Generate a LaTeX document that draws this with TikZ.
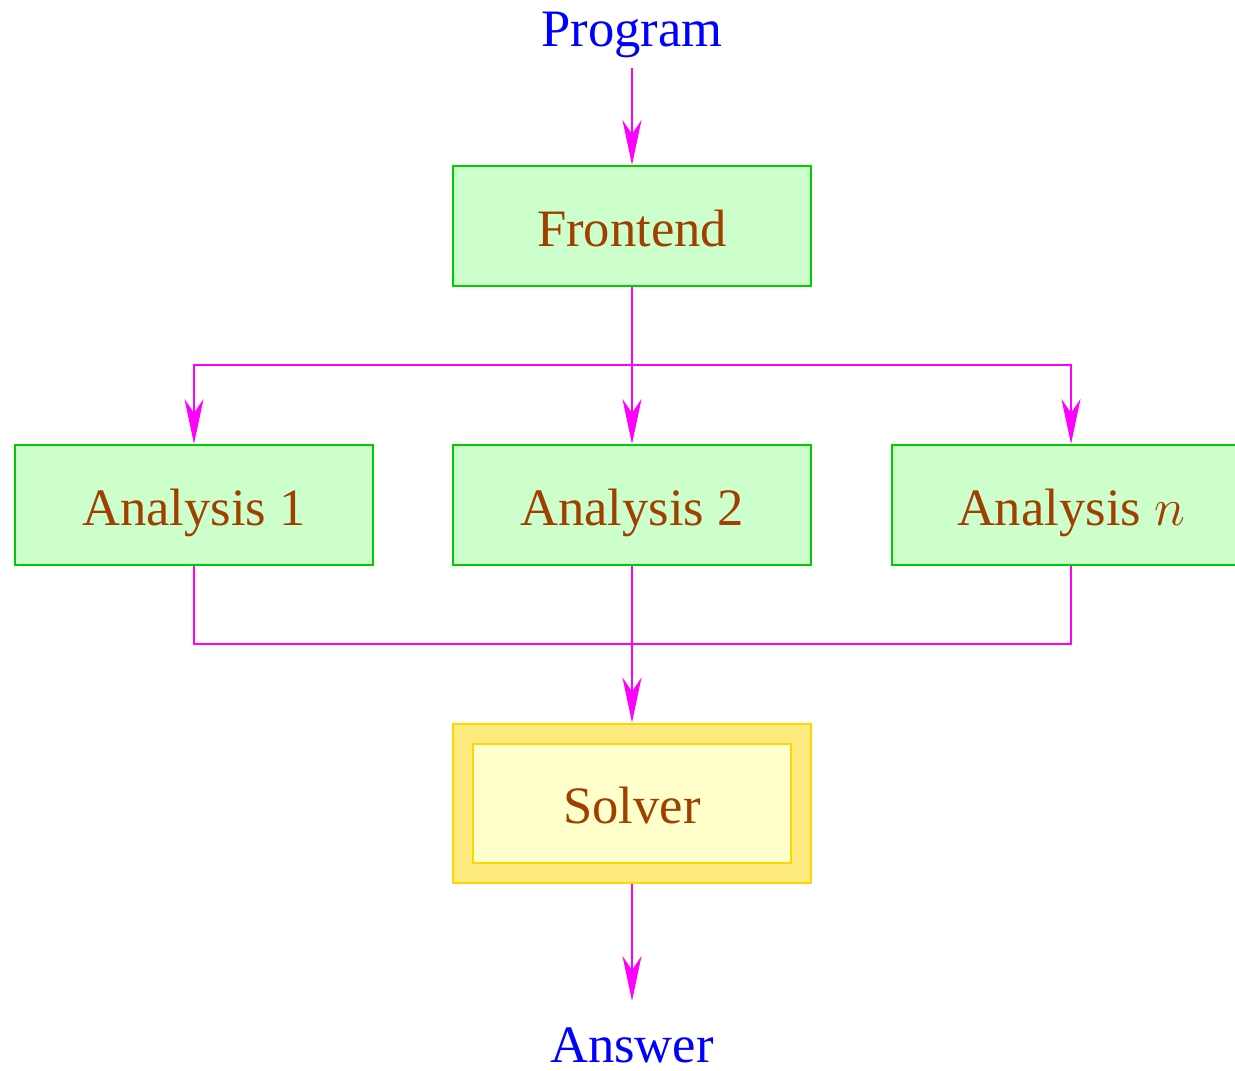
\RequirePackage{fix-cm}
\documentclass[tikz,border=0pt]{standalone}
\usepackage{fontspec}
\setmainfont{Liberation Serif}
\usetikzlibrary{arrows.meta}
\definecolor{boxgreen}{RGB}{0,204,0}
\definecolor{boxfill}{RGB}{204,255,204}
\definecolor{labelbrown}{RGB}{160,64,0}
\definecolor{solverout}{RGB}{255,234,128}
\definecolor{solverin}{RGB}{255,255,204}
\definecolor{solverline}{RGB}{255,214,0}
\definecolor{wire}{RGB}{255,0,255}
\tikzset{
  flow/.style={draw=wire, line width=1.8pt,
    -{Stealth[length=45pt, width=19pt, inset=14pt]}},
  link/.style={draw=wire, line width=1.8pt},
  stage/.style={draw=boxgreen, fill=boxfill, line width=2pt,
    minimum width=358pt, minimum height=120pt, inner sep=0pt,
    text height=40pt, text depth=0pt, text=labelbrown},
  io/.style={text=blue, inner sep=0pt, anchor=base},
}
\begin{document}
\begin{tikzpicture}[x=1pt, y=-1pt,
  every node/.style={font=\fontsize{52.6}{60}\selectfont}]
\useasboundingbox (0,0) rectangle (1235,1071);

\node[io] (prog) at (632,46) {Program};
\node[stage] (fe) at (632,226) {Frontend};
\node[stage] (a1) at (194,505) {Analysis 1};
\node[stage] (a2) at (632,505) {Analysis 2};
\node[stage] (an) at (1071,505) {Analysis $n$};

% solver: outer band with an inner box
\node[draw=solverline, fill=solverout, line width=2pt, minimum width=358pt,
  minimum height=159pt, inner sep=0pt] (solver) at (632,803) {};
\node[draw=solverline, fill=solverin, line width=2pt, minimum width=318pt,
  minimum height=119pt, inner sep=0pt, text height=40pt, text depth=0pt,
  text=labelbrown] (solvin) at (632,803) {Solver};

\node[io] (ans) at (632,1062) {Answer};

% input to frontend
\draw[flow] (632,68) coordinate (pstart) -- (fe.north);
% fan-out to the analyses
\coordinate (split) at (632,365);
\draw[flow] (fe.south) -- (a2.north);
\draw[flow] (split) -| (a1.north);
\draw[flow] (split) -| (an.north);
% fan-in to the solver
\coordinate (join) at (632,644);
\draw[link] (a1.south) |- (join);
\draw[link] (an.south) |- (join);
\draw[flow] (a2.south) -- (solver.north);
% solver to answer
\draw[flow] (solver.south) -- (632,1001) coordinate (aend);
\end{tikzpicture}
\end{document}
